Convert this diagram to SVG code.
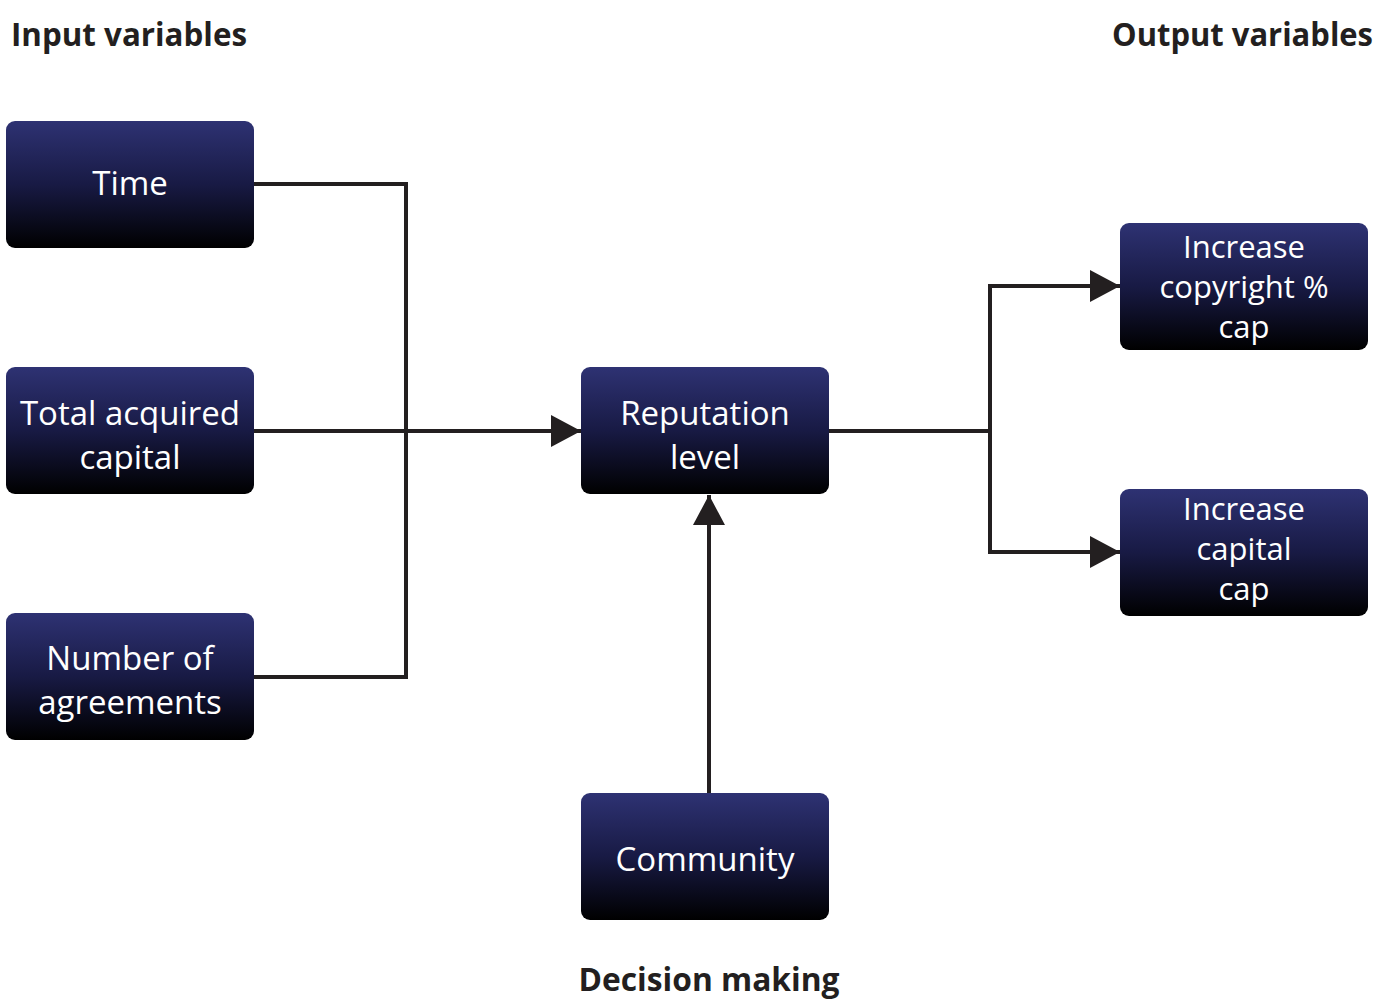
<svg xmlns="http://www.w3.org/2000/svg" width="1379" height="1001" viewBox="0 0 1379 1001">
  <defs>
    <linearGradient id="boxFill" x1="0" y1="0" x2="0" y2="1">
      <stop offset="0" stop-color="#2e3273"/>
      <stop offset="0.5" stop-color="#181a44"/>
      <stop offset="1" stop-color="#000000"/>
    </linearGradient>
    <marker id="arrow" viewBox="0 0 30 32" refX="30" refY="16" markerWidth="30" markerHeight="32" markerUnits="userSpaceOnUse" orient="auto">
      <path d="M0,0 L30,16 L0,32 Z" fill="#231f20"/>
    </marker>
  </defs>
  <style>
    .box { fill: url(#boxFill); }
    .label { font-family: "Open Sans", "Noto Sans", "DejaVu Sans", sans-serif; font-size: 33px; fill: #ffffff; text-anchor: middle; }
    .small { font-size: 31px; }
    .title { font-family: "Open Sans", "Noto Sans", "DejaVu Sans", sans-serif; font-size: 32px; font-weight: 700; fill: #231f20; }
    .wire { fill: none; stroke: #231f20; stroke-width: 4; }
  </style>
  <rect width="1379" height="1001" fill="#ffffff"/>

  <!-- section headings -->
  <text class="title" x="11" y="46" textLength="236" lengthAdjust="spacingAndGlyphs">Input variables</text>
  <text class="title" x="1373" y="46" text-anchor="end" textLength="261" lengthAdjust="spacingAndGlyphs">Output variables</text>
  <text class="title" x="709" y="991" text-anchor="middle" textLength="261" lengthAdjust="spacingAndGlyphs">Decision making</text>

  <!-- connectors -->
  <g id="connectors">
    <path class="wire" d="M254,184 H406 V677 H254"/>
    <path class="wire" d="M254,431 H581" marker-end="url(#arrow)"/>
    <path class="wire" d="M709,793 V495" marker-end="url(#arrow)"/>
    <path class="wire" d="M829,431 H990"/>
    <path class="wire" d="M990,431 V286 H1120" marker-end="url(#arrow)"/>
    <path class="wire" d="M990,431 V552 H1120" marker-end="url(#arrow)"/>
  </g>

  <!-- input nodes -->
  <g id="node-time">
    <rect class="box" x="6" y="121" width="248" height="127" rx="9"/>
    <text class="label" x="130" y="195">Time</text>
  </g>
  <g id="node-capital">
    <rect class="box" x="6" y="367" width="248" height="127" rx="9"/>
    <text class="label" x="130" y="425">Total acquired</text>
    <text class="label" x="130" y="469">capital</text>
  </g>
  <g id="node-agreements">
    <rect class="box" x="6" y="613" width="248" height="127" rx="9"/>
    <text class="label" x="130" y="670">Number of</text>
    <text class="label" x="130" y="714">agreements</text>
  </g>

  <!-- decision nodes -->
  <g id="node-reputation">
    <rect class="box" x="581" y="367" width="248" height="127" rx="9"/>
    <text class="label" x="705" y="425">Reputation</text>
    <text class="label" x="705" y="469">level</text>
  </g>
  <g id="node-community">
    <rect class="box" x="581" y="793" width="248" height="127" rx="9"/>
    <text class="label" x="705" y="871">Community</text>
  </g>

  <!-- output nodes -->
  <g id="node-copyright-cap">
    <rect class="box" x="1120" y="223" width="248" height="127" rx="9"/>
    <text class="label small" x="1244" y="258">Increase</text>
    <text class="label small" x="1244" y="298">copyright %</text>
    <text class="label small" x="1244" y="338">cap</text>
  </g>
  <g id="node-capital-cap">
    <rect class="box" x="1120" y="489" width="248" height="127" rx="9"/>
    <text class="label small" x="1244" y="520">Increase</text>
    <text class="label small" x="1244" y="560">capital</text>
    <text class="label small" x="1244" y="600">cap</text>
  </g>
</svg>
